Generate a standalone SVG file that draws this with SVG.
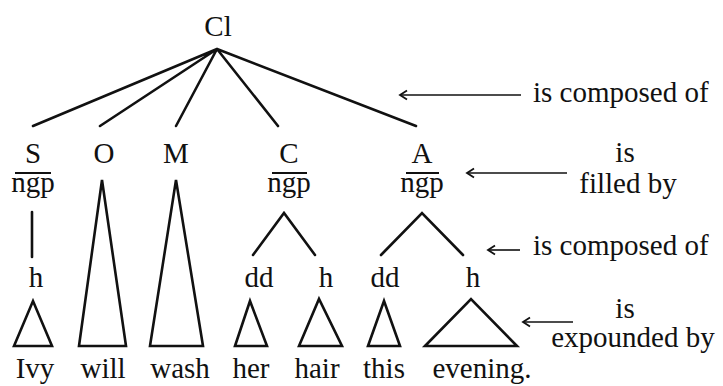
<svg xmlns="http://www.w3.org/2000/svg" width="723" height="386" viewBox="0 0 723 386">
<defs>
<style>
text{font-family:"Liberation Serif",Tinos,"Noto Serif","DejaVu Serif",FreeSerif,"Nimbus Roman","Times New Roman",Times,Georgia,serif;font-size:29px;fill:#111;text-anchor:middle}
.e{stroke:#111;stroke-width:2.6;fill:none;stroke-linecap:round;stroke-linejoin:miter}
.bar{stroke:#111;stroke-width:2;fill:none}
.ar{stroke:#111;stroke-width:1.6;fill:none}
.lbl{text-anchor:start}
</style>
<marker id="ah" markerWidth="12" markerHeight="12" refX="8" refY="6" orient="auto" markerUnits="userSpaceOnUse">
<path d="M1,1.5 L8,6 L1,10.5" stroke="#111" stroke-width="1.8" fill="none"/>
</marker>
</defs>
<rect width="723" height="386" fill="#fff"/>

<g id="connectors">
<path class="e" d="M217,49 L33,126 M217,49 L100,126 M217,49 L176,126 M217,49 L278,126 M217,49 L416,126"/>
<path class="e" d="M32,212 L32,257"/>
<path class="e" d="M253,255 L284,213 L315,255"/>
<path class="e" d="M381,255 L422,213 L463,255"/>
</g>

<g id="Cl"><text x="218" y="36">Cl</text></g>

<g id="S"><text x="33" y="163">S</text><line class="bar" x1="15" y1="173" x2="51" y2="173"/><text x="33" y="192">ngp</text></g>
<g id="O"><text x="104" y="163">O</text></g>
<g id="M"><text x="176" y="163">M</text></g>
<g id="C"><text x="289" y="163">C</text><line class="bar" x1="272" y1="173" x2="307" y2="173"/><text x="289" y="192">ngp</text></g>
<g id="A"><text x="422" y="163">A</text><line class="bar" x1="406" y1="173" x2="439" y2="173"/><text x="422" y="192">ngp</text></g>

<g id="S-h"><text x="36" y="287">h</text></g>
<g id="C-dd"><text x="259" y="287">dd</text></g>
<g id="C-h"><text x="326" y="287">h</text></g>
<g id="A-dd"><text x="385" y="287">dd</text></g>
<g id="A-h"><text x="473" y="287">h</text></g>

<g id="tri-ivy"><path class="e" d="M14,346 L33,301 L52,346 Z"/></g>
<g id="tri-will"><path class="e" d="M79,346 L102,180 L126,346 Z"/></g>
<g id="tri-wash"><path class="e" d="M150,346 L176,180 L203,346 Z"/></g>
<g id="tri-her"><path class="e" d="M235,346 L250,301 L267,346 Z"/></g>
<g id="tri-hair"><path class="e" d="M299,346 L319,299 L342,346 Z"/></g>
<g id="tri-this"><path class="e" d="M368,346 L384,301 L400,346 Z"/></g>
<g id="tri-evening"><path class="e" d="M425,346 L471,299 L517,346 Z"/></g>

<g id="words">
<text x="35" y="378">Ivy</text>
<text x="103" y="378">will</text>
<text x="180" y="378">wash</text>
<text x="251" y="378">her</text>
<text x="317" y="378">hair</text>
<text x="384" y="378">this</text>
<text x="482" y="378">evening.</text>
</g>

<g id="arrows">
<line class="ar" x1="521" y1="95" x2="400" y2="95" marker-end="url(#ah)"/>
<line class="ar" x1="567" y1="173" x2="467" y2="173" marker-end="url(#ah)"/>
<line class="ar" x1="520" y1="250" x2="488" y2="250" marker-end="url(#ah)"/>
<line class="ar" x1="573" y1="322" x2="523" y2="322" marker-end="url(#ah)"/>
</g>

<g id="labels">
<text class="lbl" x="533" y="102">is composed of</text>
<text x="625" y="162">is</text>
<text x="628" y="193">filled by</text>
<text class="lbl" x="533" y="255">is composed of</text>
<text x="625" y="318">is</text>
<text x="633" y="347">expounded by</text>
</g>
</svg>
